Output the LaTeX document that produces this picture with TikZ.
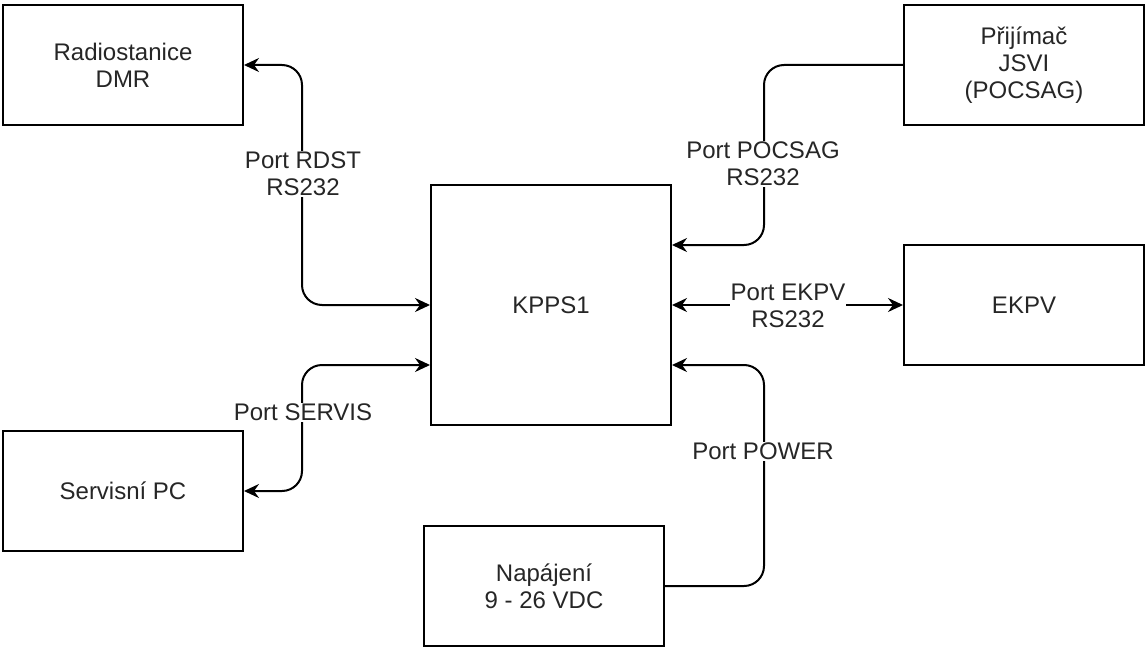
\documentclass[tikz,border=0pt]{standalone}
\usepackage{fontspec}
\setmainfont{Liberation Sans}
\usetikzlibrary{arrows.meta,calc}
\begin{document}
\begin{tikzpicture}[x=1pt,y=-1pt,
  txt/.style={font=\fontsize{24}{27}\selectfont,text=black!85,align=center},
  box/.style={txt,draw=black,line width=2pt,minimum width=240pt,minimum height=120pt,inner sep=0pt},
  conn/.style={line width=2pt,rounded corners=20pt},
  >={Stealth[length=15pt,width=14pt,inset=5pt]},
  lab/.style={txt,fill=white,inner sep=1pt}]
\useasboundingbox (0,0) rectangle (1145,650);
\node[box] (radio) at (123,65) {Radiostanice\\DMR};
\node[box] (prij) at (1024,65) {Přijímač\\JSVI\\(POCSAG)};
\node[box,minimum width=240pt,minimum height=240pt] (kpps) at (551,305) {KPPS1};
\node[box] (ekpv) at (1024,305) {EKPV};
\node[box] (servis) at (123,491) {Servisní PC};
\node[box] (nap) at (544,586) {Napájení\\9 - 26 VDC};

\draw[conn,<->] (kpps.west) -- ++(-128,0) |- (radio.east);
\draw[conn,<->] ($(kpps.west)+(0,60)$) -- ++(-128,0) |- (servis.east);
\draw[conn,->] (prij.west) -| ($(kpps.east)+(92,-60)$) -- ($(kpps.east)+(0,-60)$);
\draw[conn,<->] (kpps.east) -- (ekpv.west);
\draw[conn,->] (nap.east) -| ($(kpps.east)+(92,60)$) -- ($(kpps.east)+(0,60)$);

\node[lab] (lrdst) at (303,174) {Port RDST\\RS232};
\node[lab] (lpoc) at (763,164) {Port POCSAG\\RS232};
\node[lab] (lekpv) at (788,306) {Port EKPV\\RS232};
\node[lab] (lserv) at (303,412) {Port SERVIS};
\node[lab] (lpow) at (763,451) {Port POWER};
\end{tikzpicture}
\end{document}
